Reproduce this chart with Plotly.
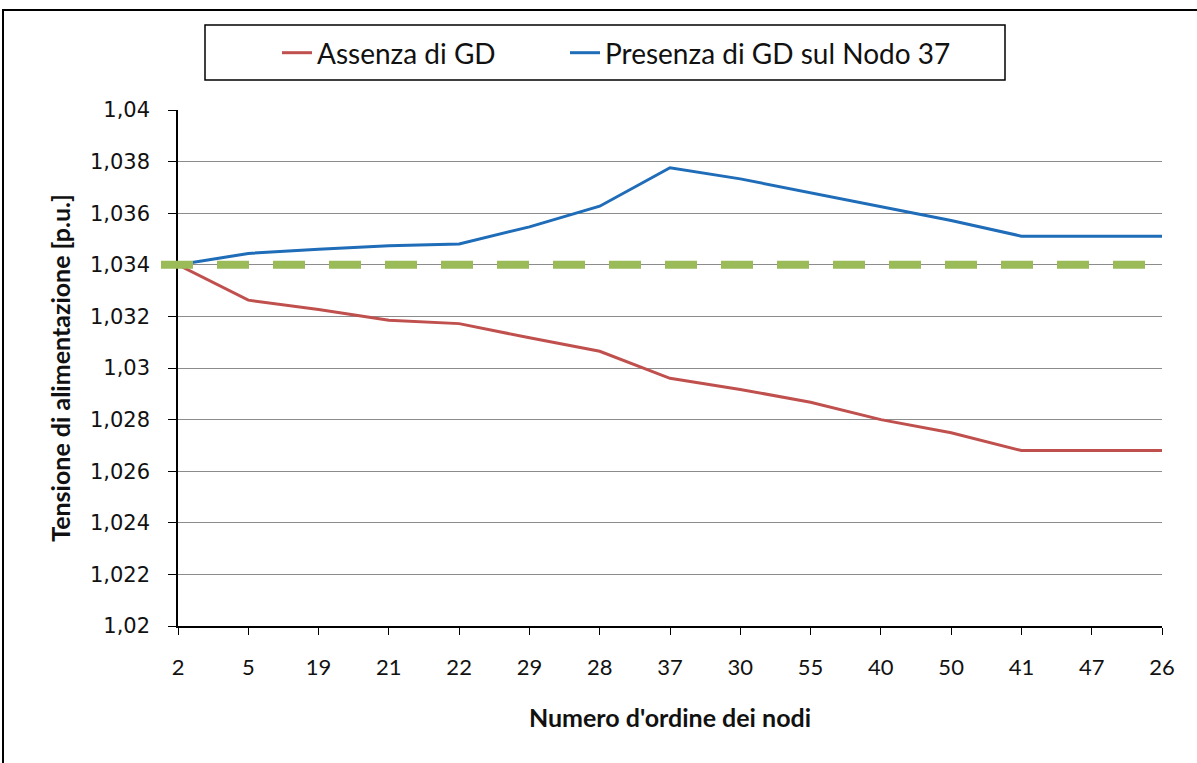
import plotly.graph_objects as go

nodes = ["2", "5", "19", "21", "22", "29", "28", "37", "30", "55", "40", "50", "41", "47", "26"]
assenza_gd = [1.0340, 1.03263, 1.03227, 1.03185, 1.03172, 1.03117, 1.03065, 1.0296, 1.02917,
              1.02867, 1.02800, 1.02749, 1.02680, 1.02680, 1.02680]
presenza_gd = [1.0340, 1.03444, 1.03460, 1.03474, 1.03481, 1.03547, 1.03627, 1.03776, 1.03733,
               1.03679, 1.03627, 1.03572, 1.03511, 1.03511, 1.03511]
ref_voltage = 1.034
y_tickvals = [1.02, 1.022, 1.024, 1.026, 1.028, 1.03, 1.032, 1.034, 1.036, 1.038, 1.04]
y_ticktext = ["1,02", "1,022", "1,024", "1,026", "1,028", "1,03", "1,032", "1,034", "1,036", "1,038", "1,04"]

W, H = 1197, 763
L, R, T, B = 178, 35, 110, 137
pw, ph = W - L - R, H - T - B

def px(x):
    return (x - L) / pw

def py(y):
    return (H - B - y) / ph

TXT = "#111111"

fig = go.Figure()
fig.add_trace(go.Scatter(x=nodes, y=assenza_gd, mode="lines", name="Assenza di GD",
                         line=dict(color="#C0504D", width=3), legend="legend"))
fig.add_trace(go.Scatter(x=nodes, y=presenza_gd, mode="lines", name="Presenza di GD sul Nodo 37",
                         line=dict(color="#1F6CB8", width=3), legend="legend2"))

shapes = [
    dict(type="line", xref="paper", yref="y", x0=px(161), x1=px(1152), y0=ref_voltage, y1=ref_voltage,
         line=dict(color="#9BBB59", width=8, dash="32px,24px"), layer="above"),
    dict(type="rect", xref="paper", yref="paper", x0=px(205), x1=px(1005), y0=py(80), y1=py(25),
         line=dict(color="black", width=1.5), fillcolor="rgba(0,0,0,0)"),
    dict(type="rect", xref="paper", yref="paper", x0=px(3), x1=px(1240), y0=py(800), y1=py(10),
         line=dict(color="black", width=2), fillcolor="rgba(0,0,0,0)"),
]

legend_common = dict(orientation="h", yanchor="middle", xanchor="left",
                     font=dict(size=28, family="Lato", color=TXT),
                     bgcolor="rgba(0,0,0,0)", borderwidth=0)

fig.update_layout(
    width=W, height=H,
    margin=dict(l=L, r=R, t=T, b=B),
    paper_bgcolor="white", plot_bgcolor="white",
    font=dict(family="Lato", color=TXT),
    shapes=shapes,
    showlegend=True,
    legend=dict(x=px(277), y=py(53), **legend_common),
    legend2=dict(x=px(565), y=py(53), **legend_common),
    xaxis=dict(type="category", range=[0, len(nodes) - 1], showgrid=False,
               showline=True, linecolor="black", linewidth=1.5,
               ticks="outside", ticklen=7, tickcolor="black", tickwidth=1,
               ticklabelstandoff=14,
               tickfont=dict(size=22, family="Lato", color=TXT),
               title=dict(text="<b>Numero d'ordine dei nodi</b>", standoff=30,
                          font=dict(size=25, family="Lato", color=TXT))),
    yaxis=dict(range=[1.02, 1.04], tickvals=y_tickvals, ticktext=y_ticktext,
               showgrid=True, gridcolor="#8C8C8C", gridwidth=1.2,
               showline=True, linecolor="black", linewidth=1.5,
               ticks="outside", ticklen=8, tickcolor="black", tickwidth=1,
               ticklabelstandoff=14,
               tickfont=dict(size=21, family="DejaVu Sans", color=TXT),
               title=dict(text="<b>Tensione di alimentazione [p.u.]</b>", standoff=12,
                          font=dict(size=25, family="Lato", color=TXT))),
)

fig.write_html("out.html", config={"displayModeBar": False},
               post_script="document.body.style.margin='0';")
